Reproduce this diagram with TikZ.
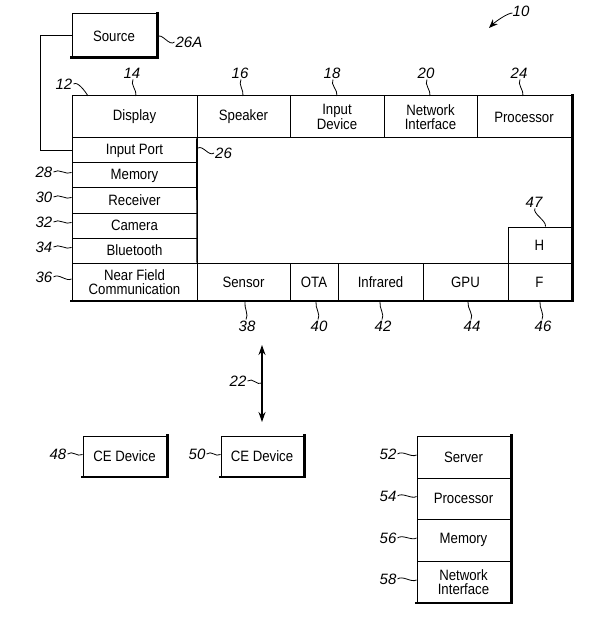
\documentclass[tikz,border=0pt]{standalone}
\usepackage{fontspec}
\setmainfont{Liberation Sans}[FakeStretch=0.88]
\newfontfamily\lblfont{Liberation Sans}
\usetikzlibrary{arrows.meta}
\tikzset{
  cellst/.style={draw, line width=1pt, inner sep=0pt, align=center, font=\fontsize{15}{14.5}\selectfont},
  lbl/.style={font=\lblfont\itshape\fontsize{15}{15}\selectfont, inner sep=1pt},
  lead/.style={line width=0.8pt},
  shadowline/.style={line width=2.4pt, line cap=rect},
  conn/.style={line width=1pt},
  tip/.style={-{Stealth[length=9pt,width=7pt]}}
}
\newcommand\cellbox[6]{\node[cellst, minimum width={#4pt-#2pt}, minimum height={#5pt-#3pt}] (#1) at ({(#2+#4)/2},{(#3+#5)/2}) {#6};}
\begin{document}
\begin{tikzpicture}[x=1pt, y=-1pt]
\useasboundingbox (0,0) rectangle (598,628);
% Source
\cellbox{source}{72}{14}{156}{58}{Source}
\draw[shadowline] ([shift={(0.8,0)}]source.north east) -- ([shift={(0.8,-0.8)}]source.south east) -- ([shift={(0,-0.8)}]source.south west);
% top row
\cellbox{display}{72}{96}{197}{138}{Display}
\cellbox{speaker}{197}{96}{290}{138}{Speaker}
\cellbox{indev}{290}{96}{384}{138}{Input\\Device}
\cellbox{netif}{384}{96}{477}{138}{Network\\Interface}
\cellbox{proc}{477}{96}{571}{138}{Processor}
% main frame
\node[draw, line width=1pt, inner sep=0pt, minimum width=499pt, minimum height=205pt] (main) at (321.5,198.5) {};
% left column
\cellbox{inport}{72}{138}{197}{163}{Input Port}
\cellbox{memory}{72}{163}{197}{188}{Memory}
\cellbox{receiver}{72}{188}{197}{213}{Receiver}
\cellbox{camera}{72}{213}{197}{238}{Camera}
\cellbox{bluetooth}{72}{238}{197}{263}{Bluetooth}
\cellbox{nfc}{72}{263}{197}{301}{Near Field\\Communication}
\draw[line width=1pt] (speaker.south west) -- (197,263);
% bottom row
\cellbox{sensor}{197}{263}{290}{301}{Sensor}
\cellbox{ota}{290}{263}{338}{301}{OTA}
\cellbox{infrared}{338}{263}{423}{301}{Infrared}
\cellbox{gpu}{423}{263}{508}{301}{GPU}
\cellbox{ff}{508}{263}{571}{301}{F}
\cellbox{hh}{508}{227}{571}{263}{H}
\draw[shadowline] ([shift={(0.8,0)}]main.north east) -- ([shift={(0.8,-0.8)}]main.south east) -- ([shift={(0,-0.8)}]main.south west);
% source connector
\draw[conn] (source.west) -- ++(-31,0) |- (inport.west);
% top labels
\node[lbl] (l14) at (132,73) {14};
\node[lbl] (l16) at (240,73) {16};
\node[lbl] (l18) at (332,73) {18};
\node[lbl] (l20) at (426,73) {20};
\node[lbl] (l24) at (519,73) {24};
\coordinate (c14) at (136,96);
\coordinate (c16) at (243,96);
\coordinate (c18) at (337,96);
\coordinate (c20) at (430,96);
\coordinate (c24) at (523,96);
\foreach \n in {14,16,18,20,24}{
  \draw[lead] ([xshift=1pt]l\n.south) .. controls +(-3,5) and +(1,-6) .. (c\n);
}
\node[lbl] (l12) at (64,84) {12};
\coordinate (c12) at (88,96);
\draw[lead] (l12.east) .. controls +(4,-3) and +(-3,-5) .. (c12);
\node[lbl] (l26a) at (189,42) {26A};
\draw[lead] ([shift={(1,1)}]source.east) .. controls +(4,-5) and +(-5,5) .. (l26a.west);
\node[lbl] (l10) at (521,11) {10};
\coordinate (c10) at (489,28);
\draw[lead, tip] ([shift={(1,2)}]l10.west) .. controls +(-5,0) and +(6,-6) .. (c10);
% left labels
\node[lbl, anchor=west] (l26) at (214,153) {26};
\draw[lead] (198,148) .. controls +(5,-3) and +(-5,4) .. (l26.west);
\node[lbl] (l28) at (44,172) {28};
\node[lbl] (l30) at (44,197) {30};
\node[lbl] (l32) at (44,222) {32};
\node[lbl] (l34) at (44,247) {34};
\node[lbl] (l36) at (44,277) {36};
\draw[lead] (l28.east) .. controls +(5,-4) and +(-5,3) .. ([yshift=3pt]memory.west);
\draw[lead] (l30.east) .. controls +(5,-4) and +(-5,3) .. ([yshift=3pt]receiver.west);
\draw[lead] (l32.east) .. controls +(5,-4) and +(-5,3) .. ([yshift=3pt]camera.west);
\draw[lead] (l34.east) .. controls +(5,-4) and +(-5,3) .. ([yshift=3pt]bluetooth.west);
\draw[lead] (l36.east) .. controls +(5,-4) and +(-5,3) .. ([yshift=3pt]nfc.west);
% bottom labels
\node[lbl] (l38) at (247,326) {38};
\node[lbl] (l40) at (319,326) {40};
\node[lbl] (l42) at (383,326) {42};
\node[lbl] (l44) at (472,326) {44};
\node[lbl] (l46) at (543,326) {46};
\coordinate (c38) at (245,302);
\coordinate (c40) at (316,302);
\coordinate (c42) at (380,302);
\coordinate (c44) at (468,302);
\coordinate (c46) at (540,302);
\foreach \n in {38,40,42,44,46}{
  \draw[lead] (c\n) .. controls +(-1,6) and +(3,-5) .. ([xshift=-1pt]l\n.north);
}
\node[lbl] (l47) at (534,202) {47};
\draw[lead] ([xshift=1pt]l47.south) .. controls +(-3,5) and +(1,-6) .. ([xshift=6pt]hh.north);
% network arrow
\coordinate (a22t) at (262,345);
\coordinate (a22b) at (262,422);
\draw[line width=1.2pt, {Stealth[length=10pt,width=7pt]}-{Stealth[length=10pt,width=7pt]}] (a22t) -- (a22b);
\node[lbl] (l22) at (238,381) {22};
\draw[lead] (l22.east) .. controls +(5,-4) and +(-5,3) .. (262,383);
% bottom devices
\cellbox{ce1}{83}{436}{166}{477}{CE Device}
\cellbox{ce2}{221}{436}{303}{477}{CE Device}
\draw[shadowline] ([shift={(0.8,0)}]ce1.north east) -- ([shift={(0.8,-0.8)}]ce1.south east) -- ([shift={(0,-0.8)}]ce1.south west);
\draw[shadowline] ([shift={(0.8,0)}]ce2.north east) -- ([shift={(0.8,-0.8)}]ce2.south east) -- ([shift={(0,-0.8)}]ce2.south west);
\node[lbl] (l48) at (58,454) {48};
\node[lbl] (l50) at (197,454) {50};
\draw[lead] (l48.east) .. controls +(5,-4) and +(-5,3) .. ([yshift=2pt]ce1.west);
\draw[lead] (l50.east) .. controls +(5,-4) and +(-5,3) .. ([yshift=2pt]ce2.west);
% server stack
\cellbox{server}{417}{436}{510}{478}{Server}
\cellbox{sproc}{417}{478}{510}{519}{Processor}
\cellbox{smem}{417}{519}{510}{561}{Memory}
\cellbox{snet}{417}{561}{510}{603}{Network\\Interface}
\draw[shadowline] ([shift={(0.8,0)}]server.north east) -- ([shift={(0.8,-0.8)}]snet.south east) -- ([shift={(0,-0.8)}]snet.south west);
\node[lbl] (l52) at (388,454) {52};
\node[lbl] (l54) at (388,496) {54};
\node[lbl] (l56) at (388,538) {56};
\node[lbl] (l58) at (388,579) {58};
\draw[lead] (l52.east) .. controls +(5,-4) and +(-5,3) .. ([yshift=2pt]server.west);
\draw[lead] (l54.east) .. controls +(5,-4) and +(-5,3) .. ([yshift=2pt]sproc.west);
\draw[lead] (l56.east) .. controls +(5,-4) and +(-5,3) .. ([yshift=2pt]smem.west);
\draw[lead] (l58.east) .. controls +(5,-4) and +(-5,3) .. ([yshift=2pt]snet.west);
\end{tikzpicture}
\end{document}
